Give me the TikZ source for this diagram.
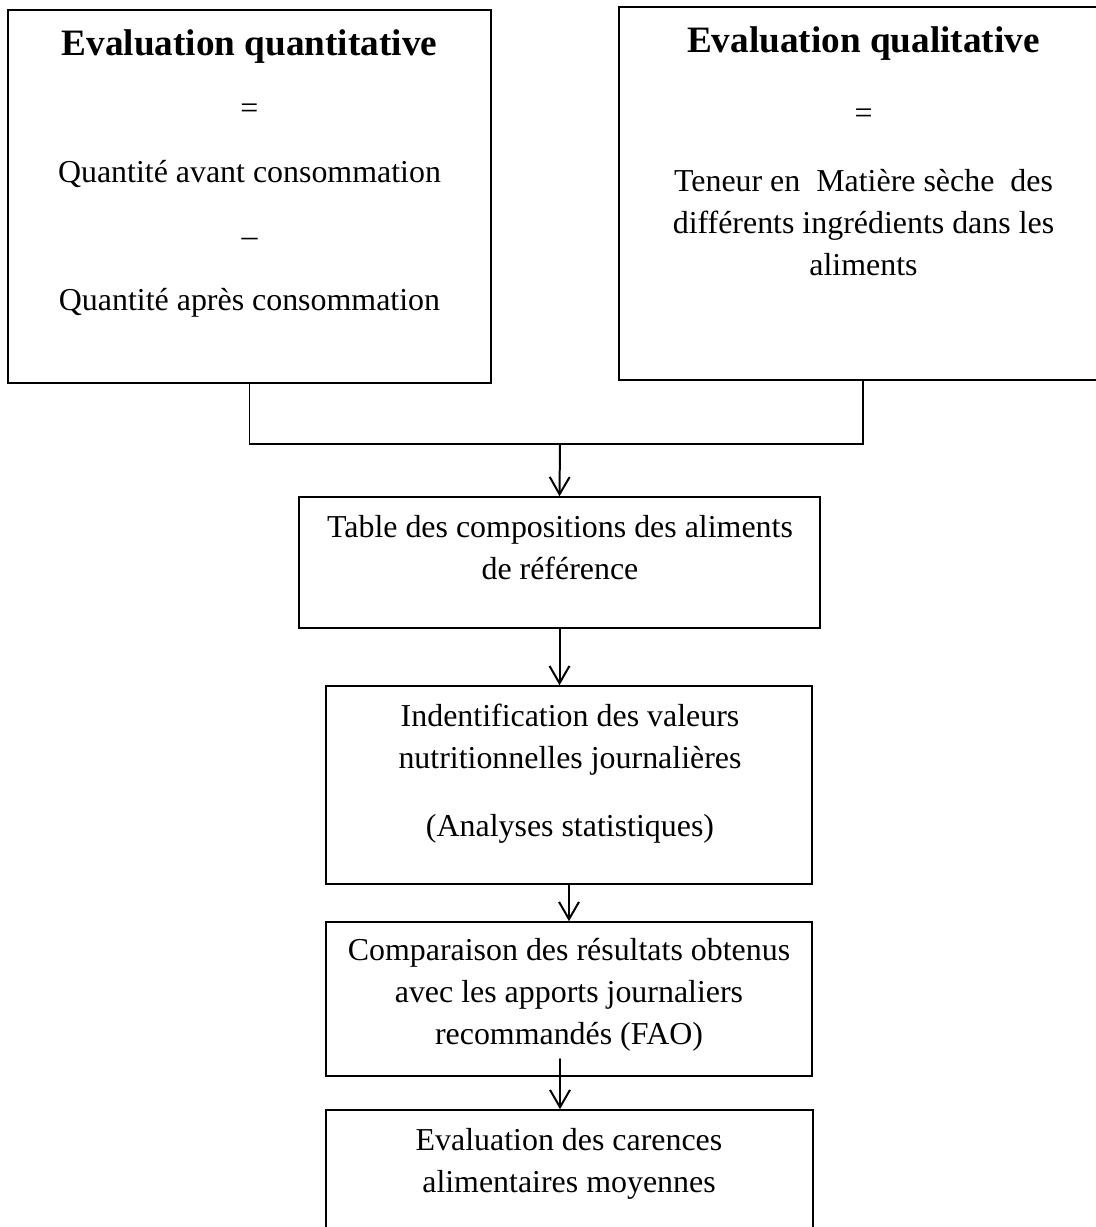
\documentclass[tikz,border=0pt]{standalone}
\usepackage{fontspec}
\setmainfont{Liberation Serif}
\usetikzlibrary{arrows.meta,fit}

\begin{document}
\begin{tikzpicture}[line cap=round,x=0.376pt,y=-0.376pt,
  box/.style={draw, line width=0.6pt, inner sep=0pt},
  txt/.style={anchor=base, inner sep=0pt, font=\fontsize{12}{15.8}\selectfont},
  arr/.style={-{Straight Barb[length=6.5pt,width=7.5pt]}, line width=0.75pt}]
\useasboundingbox (0,0) rectangle (1096,1227);

\node [box, fit={(8,10) (491,383)}] (quant) {};
\node [box, fit={(619,7) (1106,380)}] (qual) {};
\node [box, fit={(299,497) (820,628)}] (table) {};
\node [box, fit={(326,686) (812,884)}] (ident) {};
\node [box, fit={(326,922) (812,1076)}] (comp) {};
\node [box, fit={(326,1110) (813,1240)}] (caren) {};

\node [txt] (quanttxt) at (249.5,55) {\parbox[t]{175pt}{\centering\fontsize{12}{24}\selectfont
  {\fontsize{14}{24}\selectfont\bfseries Evaluation quantitative}\\
  =\\
  Quantité avant consommation\\
  --\\
  Quantité après consommation}};
\node [txt] (qualtxt) at (863.5,52) {\parbox[t]{175pt}{\centering
  {\fontsize{14}{15.8}\selectfont\bfseries Evaluation qualitative}\\[11pt]
  =\\[10pt]
  Teneur en~ Matière sèche~ des\\
  différents ingrédients dans les\\
  aliments}};
\node [txt] (tabletxt) at (560,537) {\parbox[t]{190pt}{\centering
  Table des compositions des aliments\\
  de référence}};
\node [txt] (identtxt) at (570,726) {\parbox[t]{175pt}{\centering
  Indentification des valeurs\\
  nutritionnelles journalières\\[9.8pt]
  (Analyses statistiques)}};
\node [txt] (comptxt) at (569,960) {\parbox[t]{180pt}{\centering
  Comparaison des résultats obtenus\\
  avec les apports journaliers\\
  recommandés (FAO)}};
\node [txt] (carentxt) at (569,1150) {\parbox[t]{175pt}{\centering
  Evaluation des carences\\
  alimentaires moyennes}};

\coordinate (join) at (560,444);
\coordinate (stem) at (560,1059);

\draw [line width=0.75pt] (quant.south) |- (join) -| (qual.south);
\draw [arr] (join) -- (table.north);
\draw [arr] (table.south) -- (table.south |- ident.north);
\draw [arr] (ident.south) -- (comp.north);
\draw [arr] (stem) -- (stem |- caren.north);
\end{tikzpicture}
\end{document}
